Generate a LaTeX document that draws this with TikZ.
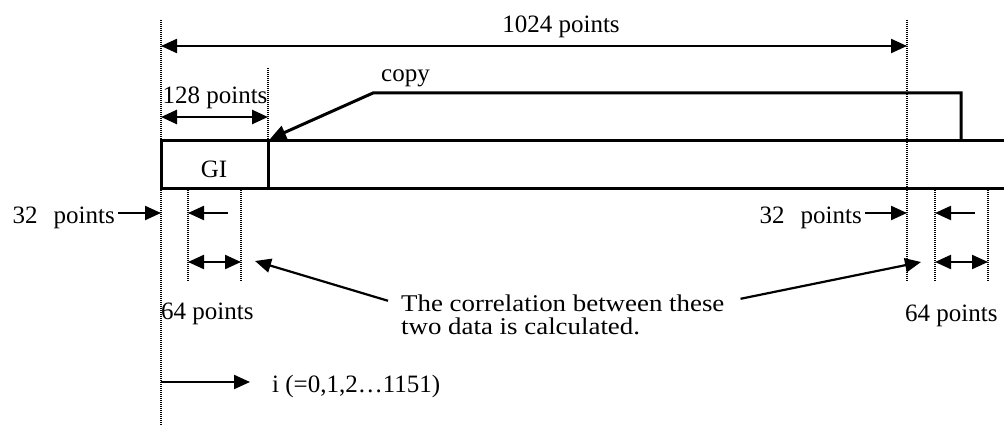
\documentclass[tikz,border=0pt]{standalone}
\usepackage{fontspec}
\setmainfont{Liberation Serif}
\usetikzlibrary{arrows.meta}
\begin{document}
\begin{tikzpicture}[x=1pt,y=-1pt,
  lbl/.style={font=\fontsize{25}{25}\selectfont, inner sep=0pt},
  cor/.style={font=\fontsize{24}{24}\selectfont, inner sep=0pt},
  dimline/.style={line width=2.2pt},
  tipend/.style={-{Triangle[length=16pt,width=14pt]}},
  tipboth/.style={{Triangle[length=16pt,width=14pt]}-{Triangle[length=16pt,width=14pt]}},
  guide/.style={line width=1.5pt, dash pattern=on 1pt off 1pt},
  frame/.style={line width=3pt}]
\useasboundingbox (0,0) rectangle (1004,425);
% guide coordinates
\coordinate (L0) at (161,20);  \coordinate (L1) at (161,425);
\coordinate (R0) at (907,20);  \coordinate (R1) at (907,282);
\coordinate (G0) at (268,68);  \coordinate (G1) at (268,141);
\coordinate (A0) at (188,190); \coordinate (A1) at (188,282);
\coordinate (B0) at (241,190); \coordinate (B1) at (241,282);
\coordinate (C0) at (935,190); \coordinate (C1) at (935,282);
\coordinate (D0) at (988,190); \coordinate (D1) at (988,282);
\draw[guide] (L0) -- (L1);
\draw[guide] (R0) -- (R1);
\draw[guide] (G0) -- (G1);
\draw[guide] (A0) -- (A1);
\draw[guide] (B0) -- (B1);
\draw[guide] (C0) -- (C1);
\draw[guide] (D0) -- (D1);
% frame
\coordinate (FTL) at (161,141); \coordinate (FBL) at (161,188);
\coordinate (FTR) at (1004,141); \coordinate (FBR) at (1004,188);
\coordinate (GIT) at (268,141); \coordinate (GIB) at (268,188);
\draw[frame] (FTR) -- (FTL) -- (FBL) -- (FBR);
\draw[frame] (GIT) -- (GIB);
\node[lbl, anchor=base] (gi) at (214,178) {GI};
% copy
\coordinate (CP0) at (961,141); \coordinate (CP1) at (961,93);
\coordinate (CP2) at (373,93);  \coordinate (CP3) at (270,139);
\draw[frame, tipend] (CP0) -- (CP1) -- (CP2) -- (CP3);
\node[lbl, anchor=base west] (copy) at (381,82) {copy};
% 1024 points
\draw[dimline, tipboth] (161,46) coordinate (T0) -- (907,46) coordinate (T1);
\node[lbl, anchor=base] (t1024) at (561,33) {1024 points};
% 128 points
\draw[line width=2.6pt, tipboth] (161,117) coordinate (S0) -- (268,117) coordinate (S1);
\node[lbl, anchor=base] (t128) at (215,104) {128 points};
% 32 points
\node[lbl, anchor=base east] (t32L) at (115,223) {32\hspace{16pt}points};
\coordinate (P1) at (161,213);
\draw[dimline, tipend] (t32L.east |- P1) ++(3,0) -- (P1);
\draw[dimline, tipend] (228,213) coordinate (P2) -- (188,213) coordinate (P3);
\node[lbl, anchor=base east] (t32R) at (862,223) {32\hspace{16pt}points};
\coordinate (Q1) at (907,213);
\draw[dimline, tipend] (t32R.east |- Q1) ++(3,0) -- (Q1);
\draw[dimline, tipend] (975,213) coordinate (Q2) -- (935,213) coordinate (Q3);
% 64 points
\draw[dimline, tipboth] (188,262) coordinate (M0) -- (241,262) coordinate (M1);
\draw[dimline, tipboth] (935,262) coordinate (N0) -- (988,262) coordinate (N1);
\node[lbl, anchor=base west] (t64L) at (161,319) {64 points};
\node[lbl, anchor=base west] (t64R) at (905,321) {64 points};
% correlation text
\node[cor, anchor=base west] (corA) at (401,311) {\scalebox{1.12}[1]{The correlation between these}};
\node[cor, anchor=base west] (corB) at (401,334) {\scalebox{1.12}[1]{two data is calculated.}};
\coordinate (KL) at (255,261);
\coordinate (KR) at (921,262);
\draw[dimline, tipend] ([xshift=-13pt,yshift=2pt]corA.west) -- (KL);
\draw[dimline, tipend] ([xshift=16pt,yshift=4pt]corA.east) -- (KR);
% index arrow
\coordinate (I0) at (161,382);
\node[lbl, anchor=base west] (idx) at (272,392) {i (=0,1,2\ldots1151)};
\draw[dimline, tipend] (I0) -- (250,382) coordinate (I1);
\end{tikzpicture}
\end{document}
